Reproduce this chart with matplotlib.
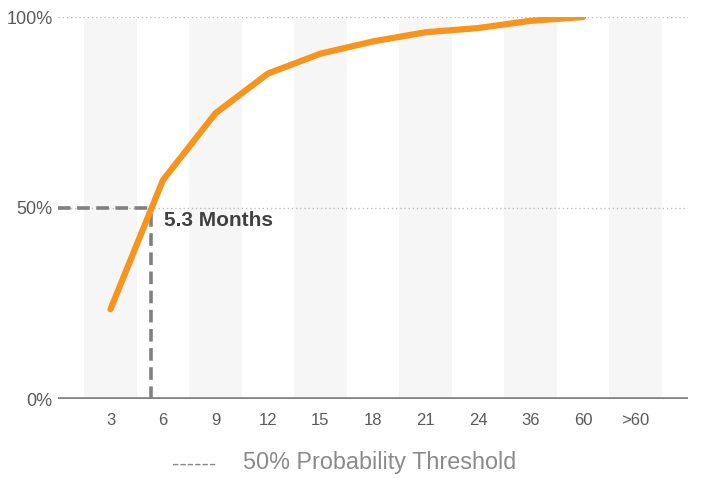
import matplotlib.pyplot as plt

months = ["3", "6", "9", "12", "15", "18", "21", "24", "36", "60", ">60"]
probability = [23.5, 57.3, 74.8, 85.2, 90.4, 93.6, 96.0, 97.1, 99.0, 100.0]
threshold = 50
crossing_label = "5.3 Months"
crossing_pos = 0.77  # 5.3 months between "3" and "6" categories

plt.rcParams['font.family'] = ['Liberation Sans', 'DejaVu Sans']

fig = plt.figure(figsize=(7.1, 4.78), dpi=100)
ax = fig.add_axes([58 / 710, 79 / 478, 630 / 710, 382 / 478])

x = list(range(len(months)))

# alternating background bands
for i in x[::2]:
    ax.axvspan(i - 0.5, i + 0.5, ymin=0, ymax=0.995, color='#f6f6f6', zorder=0, lw=0)

# dotted gridlines
for y in (50, 100):
    ax.axhline(y, color='#bdbdbd', lw=1, ls=(0, (1, 2)), zorder=1)

# threshold guide
ax.plot([-1, crossing_pos], [threshold, threshold], color='#808080', lw=2.6,
        ls=(0, (3.5, 1.8)), zorder=2)
ax.plot([crossing_pos, crossing_pos], [0, threshold], color='#808080', lw=2.6,
        ls=(0, (3.5, 1.8)), zorder=2)

ax.plot(x[:len(probability)], probability, color='#f7941d', lw=4.5,
        solid_capstyle='round', solid_joinstyle='round', zorder=3)

ax.text(crossing_pos + 0.25, threshold - 3.3, crossing_label, fontsize=15,
        fontweight='bold', color='#404040', va='center', ha='left')

ax.axhline(0, color='#808080', lw=3.3, zorder=4)

ax.set_xlim(-1, 11)
ax.set_ylim(0, 100)
ax.set_xticks(x)
ax.set_xticklabels(months)
ax.set_yticks([0, 50, 100])
ax.set_yticklabels(["0%", "50%", "100%"])
ax.tick_params(axis='x', length=0, pad=10, labelsize=12, labelcolor='#595959')
ax.tick_params(axis='y', length=0, pad=4, labelsize=13, labelcolor='#595959')
for s in ax.spines.values():
    s.set_visible(False)

fig.text(194 / 710, 1 - 465 / 478, "------", fontsize=16, color='#8a8a8a',
         ha='center', va='center')
fig.text(243 / 710, 1 - 463 / 478, "50% Probability Threshold", fontsize=16.8,
         color='#8a8a8a', ha='left', va='center')

fig.savefig("out.png", dpi=100)
